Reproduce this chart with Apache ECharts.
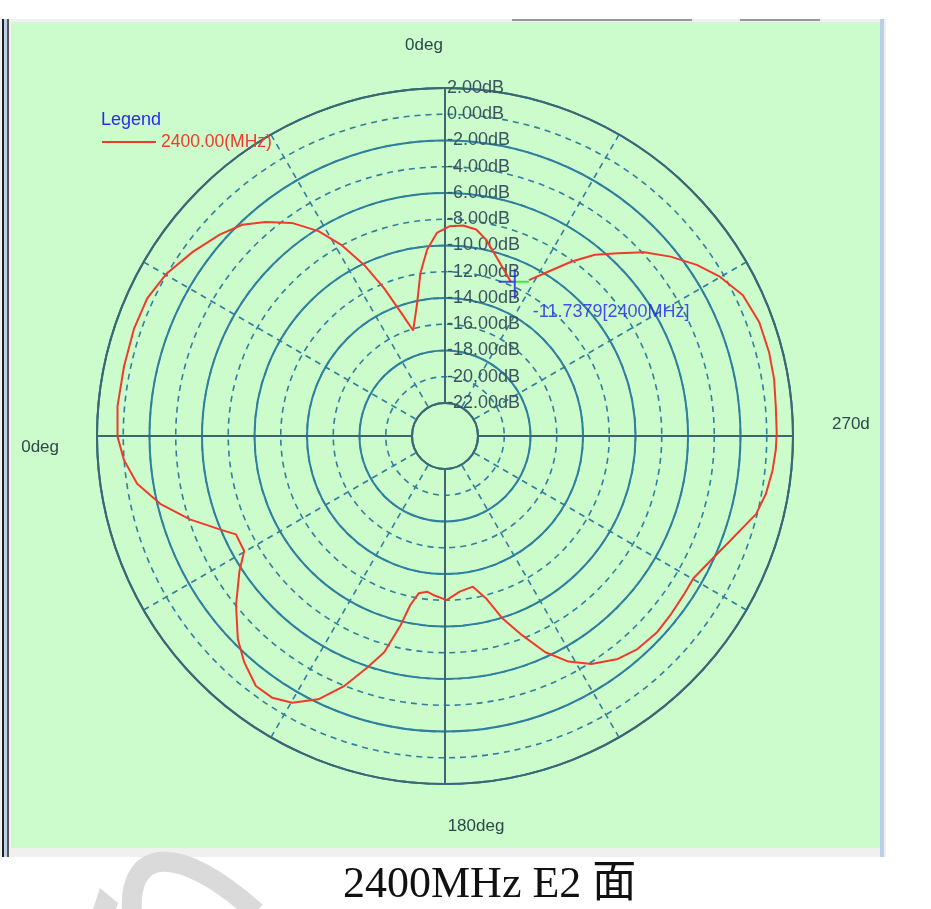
<!DOCTYPE html>
<html>
<head>
<meta charset="utf-8">
<script src="https://cdn.jsdelivr.net/npm/echarts@6/dist/echarts.min.js"></script>
<style>
html,body{margin:0;padding:0;background:#ffffff;}
#chart{width:931px;height:909px;}
</style>
</head>
<body>
<div id="chart"></div>
<script>
// Angle (deg, counter-clockwise from top) and gain (dB) along the traced curve
var angles = [336.9, 339.5, 344.1, 348.2, 351.4, 355.1, 358.7, 2.3, 5.5, 8.6, 11.9, 16.8, 19.7, 22.4, 25.3, 28.5, 31.7, 35.7, 40.0, 43.8, 48.2, 53.8, 59.7, 65.2, 71.0, 77.7, 84.8, 90.1, 94.3, 98.8, 103.4, 108.1, 112.5, 115.2, 119.8, 123.4, 129.0, 134.4, 138.4, 142.9, 146.6, 150.2, 154.3, 158.1, 161.5, 164.3, 166.8, 168.4, 170.5, 173.4, 175.8, 180.6, 185.4, 190.5, 194.2, 197.5, 201.2, 204.9, 208.7, 212.7, 217.8, 222.1, 227.3, 231.5, 236.4, 240.2, 245.6, 249.7, 252.9, 255.9, 259.8, 264.0, 267.6, 270.5, 275.1, 279.8, 284.5, 289.9, 295.3, 300.1, 304.2, 308.5, 312.7, 316.6, 320.4, 324.0, 327.8, 331.7];
var gainDb = [-11.74, -11.27, -10.29, -9.23, -8.60, -8.42, -8.52, -9.03, -10.26, -11.97, -14.20, -16.12, -14.47, -12.35, -10.10, -7.94, -6.17, -4.52, -3.23, -2.21, -1.49, -0.73, 0.04, 0.48, 0.55, 0.51, 0.54, 0.44, 0.01, -0.78, -2.21, -4.07, -5.93, -6.91, -6.88, -5.75, -4.03, -2.42, -1.47, -0.63, -0.62, -1.09, -2.25, -4.00, -5.93, -7.40, -9.70, -11.37, -12.36, -12.57, -12.37, -12.01, -12.60, -12.84, -11.75, -9.93, -8.22, -6.35, -4.92, -3.87, -3.02, -2.64, -2.50, -2.58, -2.67, -2.70, -2.06, -1.39, -0.77, -0.08, 0.33, 0.58, 0.71, 0.76, 0.79, 0.93, 0.99, 0.95, 0.59, -0.31, -1.32, -2.56, -3.86, -5.34, -6.60, -8.08, -9.70, -11.02];
var seriesName = '2400.00(MHz)';
var markerValue = -11.7379;
var markerAngle = 336.9;
var markerText = '-11.7379[2400MHz]';
var radiusMin = -22, radiusMax = 2;
var angleLabels = {0: '0deg', 90: '0deg', 180: '180deg', 270: '270d'};
var chartTitle = '2400MHz E2 \u9762';

var curve = angles.map(function (a, i) { return [gainDb[i], a]; });

var chart = echarts.init(document.getElementById('chart'));
var ringColor = '#2f7f9f';
var axisColor = '#3e6870';
var labelFont = "'Liberation Sans Narrow','Arial Narrow','Liberation Sans',sans-serif";
var angLabelColor = '#2a4a4a';

chart.setOption({
  backgroundColor: '#ffffff',
  animation: false,
  title: {
    text: chartTitle,
    left: 338, top: 858,
    textStyle: {fontFamily: "'Liberation Serif','Noto Sans CJK SC',serif", fontSize: 44, fontWeight: 'normal', color: '#111'}
  },
  graphic: [
    {type: 'rect', z: -10, shape: {x: 0, y: 19, width: 886, height: 838}, style: {fill: '#f0f0f0'}},
    {type: 'rect', z: -9, shape: {x: 11, y: 22, width: 869, height: 826}, style: {fill: '#ccfccc'}},
    {type: 'rect', z: -9, shape: {x: 2, y: 19, width: 2, height: 838}, style: {fill: '#222'}},
    {type: 'rect', z: -9, shape: {x: 4, y: 19, width: 3, height: 838}, style: {fill: '#bcd2ea'}},
    {type: 'rect', z: -9, shape: {x: 7, y: 19, width: 2, height: 838}, style: {fill: '#555'}},
    {type: 'rect', z: -9, shape: {x: 880, y: 19, width: 4, height: 838}, style: {fill: '#b9cfe6'}},
    {type: 'rect', z: -9, shape: {x: 512, y: 19, width: 180, height: 2}, style: {fill: '#999'}},
    {type: 'rect', z: -9, shape: {x: 740, y: 19, width: 80, height: 2}, style: {fill: '#999'}},
    {type: 'bezierCurve', z: -8, shape: {x1: 132, y1: 912, cpx1: 128, cpy1: 850, cpx2: 175, cpy2: 840, x2: 256, y2: 912}, style: {fill: 'none', stroke: '#dadada', lineWidth: 20}},
    {type: 'polygon', z: -8, shape: {points: [[93, 909], [100, 888], [118, 903], [116, 909]]}, style: {fill: '#dadada'}},
    {type: 'text', left: 101, top: 111, style: {text: 'Legend', fill: '#2a2af0', font: "18px 'Liberation Sans',sans-serif"}}
  ],
  legend: {
    left: 102, top: 133, padding: 0,
    icon: 'rect', itemWidth: 54, itemHeight: 2, itemGap: 0,
    data: [seriesName],
    textStyle: {color: '#f03a2a', fontSize: 17.5, fontFamily: "'Liberation Sans',sans-serif"}
  },
  polar: [
    {center: [445, 436], radius: [33, 348]},
    {center: [445, 436], radius: [33, 348]}
  ],
  angleAxis: [
    {
      polarIndex: 0, type: 'value', min: 0, max: 360, interval: 30, startAngle: 90, clockwise: false,
      axisLine: {show: true, lineStyle: {color: axisColor, width: 2}},
      axisTick: {show: false}, axisLabel: {show: false},
      splitLine: {show: true, lineStyle: {color: ringColor, width: 1.6, type: [6, 5]}}
    },
    {
      polarIndex: 1, type: 'value', min: 0, max: 360, interval: 90, startAngle: 90, clockwise: false,
      axisLine: {show: false}, axisTick: {show: false},
      axisLabel: {
        show: true, margin: 34, color: angLabelColor, fontSize: 17, fontFamily: labelFont,
        formatter: function (v) {
          if (v === 0) return '{t|' + angleLabels[0] + '}';
          if (v === 90) return '{l|' + angleLabels[90] + '}';
          if (v === 180) return '{b|' + angleLabels[180] + '}';
          if (v === 270) return '{r|' + angleLabels[270] + '}';
          return '';
        },
        rich: {
          t: {padding: [0, 42, 0, 0], color: angLabelColor, fontSize: 17, fontFamily: labelFont},
          l: {padding: [22, 4, 0, 0], color: angLabelColor, fontSize: 17, fontFamily: labelFont},
          b: {padding: [0, 0, 0, 62], color: angLabelColor, fontSize: 17, fontFamily: labelFont},
          r: {padding: [0, 0, 24, 5], color: angLabelColor, fontSize: 17, fontFamily: labelFont}
        }
      },
      splitLine: {show: true, lineStyle: {color: axisColor, width: 2}}
    }
  ],
  radiusAxis: [
    {
      polarIndex: 0, type: 'value', min: radiusMin, max: radiusMax, interval: 2,
      axisLine: {show: true, lineStyle: {color: axisColor, width: 2}},
      axisTick: {show: false},
      axisLabel: {
        show: true, color: '#3a5560', fontSize: 18, fontFamily: labelFont,
        align: 'left', margin: -2,
        formatter: function (v) { return v.toFixed(2) + 'dB'; }
      },
      splitLine: {show: true, lineStyle: {color: ringColor, width: 1.6, type: [6, 5]}}
    },
    {
      polarIndex: 1, type: 'value', min: radiusMin, max: radiusMax, interval: 4,
      axisLine: {show: false}, axisTick: {show: false}, axisLabel: {show: false},
      splitLine: {show: true, lineStyle: {color: ringColor, width: 2}}
    }
  ],
  series: [
    {
      name: seriesName, type: 'line', coordinateSystem: 'polar', polarIndex: 0,
      data: curve, showSymbol: false, symbol: 'none', smooth: false, z: 5,
      lineStyle: {color: '#f03a2a', width: 2}, itemStyle: {color: '#f03a2a'}
    },
    {
      name: 'marker-green', type: 'scatter', coordinateSystem: 'polar', polarIndex: 0,
      data: [[markerValue, markerAngle]], z: 6,
      symbol: 'path://M0,0H14V2H0Z', symbolSize: [14, 2], symbolOffset: [11, 0],
      itemStyle: {color: '#22dd22'}
    },
    {
      name: 'marker', type: 'scatter', coordinateSystem: 'polar', polarIndex: 0,
      data: [[markerValue, markerAngle]], z: 7,
      symbol: 'path://M-12,-1H5V1H-12Z M3,-13H5V17H3Z', symbolSize: [17, 30], symbolOffset: [-3.5, 2],
      itemStyle: {color: '#2222ee'},
      label: {
        show: true, position: 'right', distance: 0, offset: [17, 28],
        formatter: function () { return markerText; },
        color: '#2222ee', fontSize: 18, fontFamily: labelFont
      }
    }
  ]
});
</script>
</body>
</html>
